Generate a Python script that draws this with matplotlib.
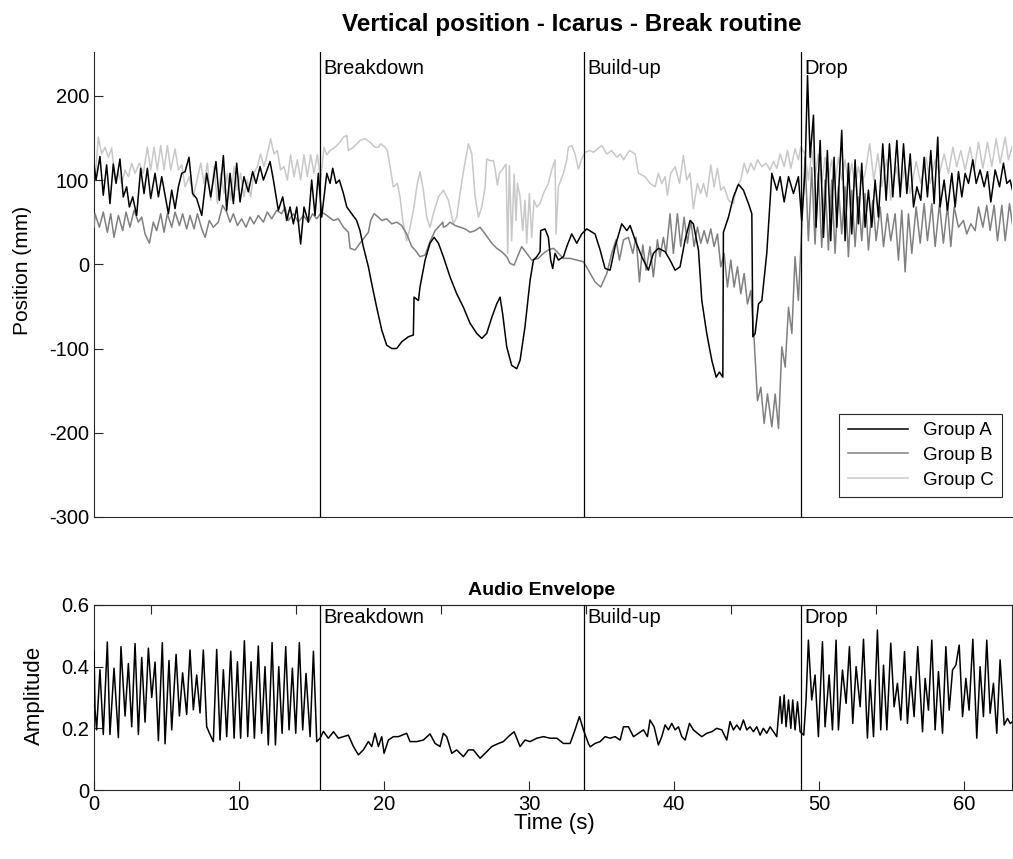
import matplotlib
matplotlib.use("Agg")
import matplotlib.pyplot as plt
import matplotlib.transforms as mtransforms

plt.rcParams["font.family"] = ["Liberation Sans", "DejaVu Sans"]
plt.rcParams["axes.unicode_minus"] = False

# section boundaries (s)
SECTION_TIMES = [15.59, 33.79, 48.76]
SECTION_NAMES = ["Breakdown", "Build-up", "Drop"]

# vertical position (time s, position mm)
group_a = [(0.00, 118), (0.14, 100), (0.41, 128), (0.64, 82), (0.87, 118), (1.10, 72), (1.33, 119),
           (1.52, 96), (1.79, 125), (2.02, 80), (2.25, 92), (2.44, 68), (2.67, 80), (2.94, 58),
           (3.22, 114), (3.45, 84), (3.68, 114), (3.91, 78), (4.21, 108), (4.44, 80), (4.67, 104),
           (4.90, 82), (5.13, 60), (5.36, 88), (5.59, 66), (5.82, 92), (6.05, 108), (6.28, 110),
           (6.55, 127), (6.80, 84), (7.08, 78), (7.43, 58), (7.77, 108), (8.05, 80), (8.41, 122),
           (8.64, 76), (8.92, 129), (9.15, 64), (9.38, 108), (9.61, 72), (9.84, 120), (10.07, 74),
           (10.34, 104), (10.64, 86), (10.94, 110), (11.17, 96), (11.45, 116), (11.68, 100),
           (12.14, 122), (12.37, 100), (12.71, 64), (13.01, 80), (13.29, 52), (13.52, 68),
           (13.75, 48), (13.98, 68), (14.25, 24), (14.48, 68), (14.78, 50), (15.01, 100),
           (15.24, 58), (15.47, 108), (15.70, 56), (16.05, 108), (16.28, 96), (16.46, 114),
           (16.69, 96), (16.92, 100), (17.20, 84), (17.43, 68), (17.77, 60), (18.11, 52),
           (18.34, 40), (18.57, 21), (18.92, -3), (19.15, -23), (19.49, -51), (19.84, -78),
           (20.18, -96), (20.53, -100), (20.87, -100), (21.22, -92), (21.68, -86), (22.02, -84),
           (22.07, -39), (22.37, -43), (22.48, -27), (22.83, 5), (23.17, 25), (23.45, 32),
           (23.75, 25), (24.09, 9), (24.55, -15), (25.01, -35), (25.47, -51), (25.93, -70),
           (26.39, -82), (26.74, -88), (27.08, -82), (27.43, -63), (27.77, -47), (28.00, -39),
           (28.18, -59), (28.46, -98), (28.80, -120), (29.15, -124), (29.38, -114), (29.72, -74),
           (30.07, -19), (30.30, 5), (30.53, 9), (30.76, 15), (30.80, 40), (31.10, 42), (31.33, 32),
           (31.49, 5), (31.63, -5), (31.79, 13), (32.02, 5), (32.37, 9), (32.60, 21), (32.94, 36),
           (33.29, 25), (33.63, 36), (33.98, 42), (34.55, 36), (34.90, 17), (35.24, -5),
           (35.59, -7), (35.93, 21), (36.39, 48), (36.74, 40), (36.97, 46), (37.31, 29), (37.77, 9),
           (38.23, -7), (38.57, 13), (38.92, 19), (39.38, 15), (39.72, 5), (40.07, -7), (40.41, -3),
           (40.76, 29), (41.10, 52), (41.33, 48), (41.68, 17), (41.91, -43), (42.25, -82),
           (42.60, -114), (42.90, -134), (43.13, -128), (43.36, -134), (43.40, 38), (43.75, 56),
           (44.09, 80), (44.44, 95), (44.78, 88), (45.13, 72), (45.36, 60), (45.43, -86),
           (45.59, -82), (45.82, -47), (46.05, -43), (46.39, 13), (46.74, 108), (47.08, 88),
           (47.31, 104), (47.59, 74), (47.89, 104), (48.23, 84), (48.57, 104), (48.80, 52),
           (49.03, 110), (49.20, 224), (49.38, 127), (49.61, 177), (49.79, 44), (50.07, 147),
           (50.30, 32), (50.57, 135), (50.80, 28), (51.03, 127), (51.22, 44), (51.56, 159),
           (51.79, 28), (52.02, 120), (52.25, 36), (52.48, 124), (52.71, 48), (52.94, 120),
           (53.17, 44), (53.40, 88), (53.63, 44), (53.86, 100), (54.09, 56), (54.39, 143),
           (54.62, 76), (54.85, 143), (55.08, 80), (55.36, 147), (55.59, 80), (55.82, 143),
           (56.05, 84), (56.28, 131), (56.51, 68), (56.74, 92), (57.01, 76), (57.24, 127),
           (57.47, 80), (57.70, 135), (57.93, 72), (58.18, 151), (58.34, 68), (58.62, 100),
           (58.85, 64), (59.15, 108), (59.38, 68), (59.61, 110), (59.84, 80), (60.07, 108),
           (60.30, 96), (60.60, 124), (60.83, 96), (61.10, 112), (61.38, 92), (61.61, 110),
           (61.84, 74), (62.14, 112), (62.44, 92), (62.71, 120), (62.94, 96), (63.17, 100),
           (63.36, 86)]

group_b = [(0.00, 44), (0.07, 60), (0.37, 44), (0.64, 62), (0.92, 38), (1.15, 60), (1.38, 32),
           (1.68, 58), (1.98, 40), (2.21, 62), (2.48, 44), (2.76, 64), (3.06, 50), (3.29, 56),
           (3.52, 36), (3.82, 25), (4.09, 50), (4.32, 40), (4.60, 60), (4.83, 38), (5.06, 60),
           (5.36, 44), (5.59, 62), (5.89, 46), (6.11, 60), (6.39, 42), (6.62, 58), (6.90, 42),
           (7.13, 60), (7.43, 42), (7.66, 32), (7.95, 52), (8.23, 44), (8.57, 50), (8.87, 70),
           (9.15, 62), (9.38, 50), (9.61, 60), (9.89, 46), (10.18, 54), (10.48, 44), (10.76, 56),
           (11.03, 48), (11.33, 58), (11.68, 50), (11.95, 62), (12.25, 54), (12.60, 64),
           (12.94, 60), (13.17, 68), (13.40, 52), (13.75, 60), (14.09, 50), (14.44, 58),
           (14.78, 50), (15.08, 60), (15.36, 54), (15.70, 62), (16.05, 58), (16.51, 52),
           (16.85, 54), (17.20, 44), (17.54, 38), (17.66, 19), (18.00, 17), (18.34, 25),
           (18.57, 30), (18.92, 38), (19.08, 52), (19.31, 60), (19.61, 56), (19.84, 52),
           (20.18, 54), (20.53, 48), (20.87, 50), (21.22, 46), (21.56, 36), (21.91, 21),
           (22.14, 17), (22.48, 9), (22.83, 11), (23.17, 27), (23.52, 40), (23.75, 44), (24.05, 50),
           (24.09, 44), (24.32, 46), (24.55, 50), (24.90, 46), (25.24, 44), (25.59, 42),
           (25.93, 38), (26.28, 40), (26.62, 44), (26.97, 36), (27.43, 25), (27.77, 19),
           (28.11, 15), (28.46, 9), (28.69, 1), (28.97, -1), (29.20, 9), (29.49, 21), (29.84, 13),
           (30.18, 5), (30.64, 7), (30.99, 13), (31.33, 17), (31.68, 19), (32.02, 13), (32.37, 7),
           (32.83, 7), (33.29, 5), (33.75, 3), (34.09, -7), (34.55, -21), (34.94, -27),
           (35.36, -11), (35.70, 13), (36.00, 29), (36.23, 5), (36.51, 29), (36.85, 32),
           (37.15, 13), (37.38, 32), (37.61, -21), (37.84, 23), (38.07, -7), (38.34, 21),
           (38.57, -15), (38.85, 29), (39.03, 9), (39.26, 32), (39.45, 13), (39.72, 60),
           (39.95, 13), (40.23, 60), (40.46, 21), (40.69, 56), (40.92, 25), (41.15, 52),
           (41.38, 21), (41.61, 44), (41.84, 25), (42.07, 40), (42.30, 25), (42.53, 42),
           (42.76, 21), (42.99, 36), (43.22, -3), (43.45, 13), (43.68, -27), (43.91, 5),
           (44.14, -27), (44.37, -3), (44.60, -35), (44.83, -11), (45.06, -47), (45.29, -31),
           (45.52, -90), (45.75, -162), (45.98, -146), (46.21, -189), (46.44, -154),
           (46.74, -193), (46.97, -154), (47.20, -195), (47.43, -98), (47.66, -122), (47.89, -51),
           (48.12, -82), (48.34, 9), (48.57, -43), (49.03, 127), (49.26, 28), (49.49, 115),
           (49.72, 24), (49.95, 108), (50.18, 20), (50.41, 100), (50.64, 17), (50.87, 100),
           (51.10, 13), (51.33, 92), (51.56, 36), (51.79, 92), (52.02, 9), (52.25, 88), (52.48, 21),
           (52.71, 80), (52.94, 28), (53.17, 84), (53.40, 17), (53.70, 76), (53.93, 28), (54.21, 68),
           (54.44, 21), (54.71, 60), (54.94, 28), (55.24, 60), (55.47, 5), (55.70, 64), (55.93, -9),
           (56.16, 60), (56.39, 13), (56.69, 68), (56.97, 25), (57.24, 72), (57.47, 28), (57.77, 72),
           (58.00, 21), (58.30, 72), (58.57, 25), (58.85, 70), (59.08, 21), (59.31, 68), (59.61, 44),
           (59.95, 52), (60.18, 36), (60.46, 48), (60.76, 40), (60.99, 68), (61.29, 44), (61.56, 70),
           (61.79, 40), (62.07, 70), (62.30, 28), (62.60, 70), (62.83, 28), (63.13, 72), (63.36, 44)]

group_c = [(0.00, 112), (0.07, 100), (0.30, 151), (0.53, 131), (0.76, 139), (0.99, 127), (1.22, 138),
           (1.45, 100), (1.68, 108), (1.91, 96), (2.14, 112), (2.37, 104), (2.60, 120), (2.83, 108),
           (3.13, 120), (3.40, 108), (3.68, 139), (3.91, 112), (4.14, 139), (4.37, 112), (4.60, 141),
           (4.83, 112), (5.06, 141), (5.29, 112), (5.59, 137), (5.82, 112), (6.05, 118), (6.28, 92),
           (6.57, 104), (6.85, 80), (7.13, 102), (7.36, 120), (7.59, 96), (7.82, 120), (8.05, 76),
           (8.28, 116), (8.51, 72), (8.74, 108), (8.97, 84), (9.20, 108), (9.43, 76), (9.66, 116),
           (9.89, 88), (10.11, 108), (10.34, 80), (10.57, 100), (10.80, 80), (11.03, 108),
           (11.26, 116), (11.49, 131), (11.72, 116), (11.95, 131), (12.18, 149), (12.41, 131),
           (12.64, 135), (12.87, 112), (13.10, 116), (13.33, 100), (13.56, 130), (13.79, 104),
           (14.02, 124), (14.25, 100), (14.48, 130), (14.71, 104), (14.94, 130), (15.17, 108),
           (15.40, 130), (15.63, 100), (15.86, 139), (16.05, 130), (16.28, 135), (16.62, 139),
           (16.97, 145), (17.20, 151), (17.43, 153), (17.54, 135), (17.89, 139), (18.11, 143),
           (18.34, 147), (18.69, 149), (19.03, 145), (19.38, 139), (19.61, 139), (19.77, 143),
           (20.07, 139), (20.23, 135), (20.41, 116), (20.64, 92), (20.92, 96), (21.10, 80),
           (21.29, 52), (21.56, 28), (21.75, 40), (22.02, 64), (22.30, 96), (22.48, 110),
           (22.71, 88), (22.94, 56), (23.17, 44), (23.40, 60), (23.75, 80), (24.09, 88),
           (24.44, 76), (24.78, 48), (25.01, 56), (25.24, 84), (25.52, 115), (25.82, 143),
           (26.05, 131), (26.28, 80), (26.51, 56), (26.74, 68), (26.97, 92), (27.08, 125),
           (27.31, 123), (27.54, 123), (27.66, 113), (27.82, 94), (27.95, 108), (28.18, 113),
           (28.41, 119), (28.53, 13), (28.64, 117), (28.80, 28), (28.97, 107), (29.10, 52),
           (29.20, 96), (29.38, 80), (29.56, 40), (29.72, 76), (29.84, 25), (30.02, 84),
           (30.18, 32), (30.34, 76), (30.53, 68), (30.76, 72), (30.99, 84), (31.33, 96),
           (31.56, 112), (31.79, 124), (31.86, 36), (32.02, 92), (32.37, 108), (32.60, 124),
           (32.71, 139), (32.94, 141), (33.17, 131), (33.40, 113), (33.63, 125), (33.86, 133),
           (34.21, 135), (34.44, 133), (35.01, 141), (35.36, 131), (35.70, 135), (36.05, 127),
           (36.28, 131), (36.51, 124), (36.92, 135), (37.31, 131), (37.54, 108), (38.00, 104),
           (38.34, 96), (38.69, 92), (38.92, 108), (39.15, 96), (39.38, 104), (39.54, 82),
           (39.77, 108), (40.07, 116), (40.37, 96), (40.64, 129), (40.87, 100), (41.10, 108),
           (41.33, 66), (41.61, 96), (41.84, 84), (42.02, 96), (42.25, 80), (42.53, 118),
           (42.76, 92), (42.99, 114), (43.22, 88), (43.45, 92), (43.75, 76), (44.09, 72),
           (44.32, 92), (44.60, 100), (44.83, 120), (45.06, 108), (45.29, 120), (45.52, 112),
           (45.75, 124), (46.05, 116), (46.34, 120), (46.62, 112), (46.85, 122), (47.08, 114),
           (47.31, 131), (47.59, 116), (47.82, 135), (48.05, 114), (48.34, 137), (48.57, 124),
           (48.74, 139), (49.03, 131), (49.26, 100), (49.49, 135), (49.72, 104), (49.95, 131),
           (50.18, 96), (50.41, 127), (50.64, 100), (50.87, 124), (51.10, 96), (51.33, 127),
           (51.56, 100), (51.79, 124), (52.02, 96), (52.25, 120), (52.48, 92), (52.71, 116),
           (52.94, 96), (53.17, 108), (53.49, 143), (53.77, 100), (54.05, 131), (54.32, 92),
           (54.67, 124), (54.94, 76), (55.31, 116), (55.59, 88), (55.93, 116), (56.28, 84),
           (56.69, 122), (57.01, 96), (57.38, 127), (57.66, 96), (58.00, 124), (58.30, 108),
           (58.62, 131), (58.92, 108), (59.22, 139), (59.49, 116), (59.77, 135), (60.07, 112),
           (60.41, 139), (60.69, 112), (60.99, 145), (61.29, 114), (61.61, 145), (61.91, 116),
           (62.21, 149), (62.48, 120), (62.83, 151), (63.06, 124), (63.36, 143)]

# audio envelope (time s, amplitude)
audio = [(0.00, 0.45), (0.07, 0.26), (0.18, 0.195), (0.41, 0.39), (0.64, 0.18), (0.92, 0.48),
         (1.10, 0.18), (1.38, 0.395), (1.68, 0.17), (1.86, 0.465), (2.14, 0.24), (2.37, 0.41),
         (2.60, 0.205), (2.83, 0.475), (3.06, 0.18), (3.29, 0.43), (3.52, 0.22), (3.75, 0.46),
         (3.98, 0.30), (4.21, 0.415), (4.44, 0.16), (4.71, 0.478), (4.90, 0.15), (5.17, 0.42),
         (5.36, 0.195), (5.66, 0.44), (5.89, 0.24), (6.11, 0.38), (6.39, 0.245), (6.62, 0.454),
         (6.85, 0.26), (7.08, 0.373), (7.31, 0.25), (7.54, 0.454), (7.77, 0.205), (8.00, 0.18),
         (8.23, 0.157), (8.46, 0.456), (8.69, 0.162), (8.92, 0.39), (9.15, 0.173), (9.43, 0.45),
         (9.66, 0.168), (9.89, 0.416), (10.11, 0.168), (10.37, 0.484), (10.60, 0.173),
         (10.83, 0.416), (11.06, 0.168), (11.33, 0.467), (11.56, 0.184), (11.79, 0.40),
         (12.02, 0.146), (12.28, 0.478), (12.51, 0.146), (12.74, 0.40), (12.97, 0.184),
         (13.22, 0.465), (13.45, 0.195), (13.68, 0.395), (13.91, 0.184), (14.16, 0.478),
         (14.39, 0.195), (14.62, 0.378), (14.90, 0.173), (15.13, 0.45), (15.36, 0.157),
         (15.59, 0.168), (15.82, 0.19), (16.16, 0.168), (16.51, 0.189), (16.85, 0.168),
         (17.20, 0.173), (17.54, 0.178), (17.89, 0.141), (18.23, 0.114), (18.57, 0.13),
         (18.92, 0.157), (19.15, 0.141), (19.38, 0.184), (19.61, 0.141), (19.84, 0.173),
         (20.00, 0.119), (20.30, 0.162), (20.64, 0.173), (20.99, 0.173), (21.56, 0.184),
         (21.79, 0.157), (22.25, 0.157), (22.71, 0.162), (23.17, 0.182), (23.52, 0.151),
         (23.86, 0.141), (24.09, 0.184), (24.32, 0.173), (24.67, 0.119), (25.01, 0.13),
         (25.47, 0.108), (25.82, 0.13), (26.16, 0.13), (26.62, 0.103), (26.97, 0.119),
         (27.43, 0.141), (27.89, 0.151), (28.23, 0.157), (28.57, 0.173), (28.97, 0.189),
         (29.38, 0.141), (29.72, 0.162), (30.07, 0.157), (30.53, 0.168), (30.99, 0.173),
         (31.45, 0.168), (31.91, 0.168), (32.37, 0.151), (32.83, 0.151), (33.17, 0.195),
         (33.47, 0.238), (33.75, 0.195), (34.09, 0.151), (34.21, 0.14), (34.55, 0.151),
         (34.90, 0.157), (35.24, 0.173), (35.59, 0.168), (35.93, 0.173), (36.28, 0.162),
         (36.51, 0.205), (36.85, 0.205), (37.20, 0.173), (37.54, 0.184), (37.89, 0.195),
         (38.16, 0.173), (38.34, 0.227), (38.62, 0.205), (38.92, 0.146), (39.15, 0.173),
         (39.38, 0.211), (39.61, 0.195), (39.84, 0.216), (40.07, 0.195), (40.30, 0.205),
         (40.53, 0.173), (40.76, 0.162), (41.06, 0.216), (41.33, 0.195), (41.61, 0.184),
         (41.91, 0.173), (42.25, 0.184), (42.60, 0.189), (42.94, 0.20), (43.29, 0.195),
         (43.63, 0.162), (43.86, 0.222), (44.09, 0.195), (44.32, 0.211), (44.55, 0.195),
         (44.78, 0.227), (45.01, 0.195), (45.24, 0.205), (45.47, 0.189), (45.70, 0.205),
         (45.93, 0.178), (46.15, 0.20), (46.39, 0.184), (46.62, 0.205), (46.85, 0.189),
         (47.08, 0.173), (47.31, 0.303), (47.43, 0.216), (47.59, 0.308), (47.72, 0.205),
         (47.89, 0.292), (48.05, 0.20), (48.18, 0.292), (48.34, 0.195), (48.51, 0.286),
         (48.69, 0.189), (48.94, 0.178), (49.10, 0.292), (49.26, 0.486), (49.49, 0.292),
         (49.72, 0.373), (49.95, 0.173), (50.23, 0.481), (50.41, 0.205), (50.69, 0.373),
         (50.92, 0.195), (51.17, 0.486), (51.33, 0.195), (51.61, 0.389), (51.86, 0.281),
         (52.09, 0.465), (52.32, 0.216), (52.55, 0.40), (52.83, 0.27), (53.06, 0.489),
         (53.33, 0.168), (53.52, 0.357), (53.75, 0.173), (54.02, 0.519), (54.25, 0.195),
         (54.44, 0.405), (54.67, 0.195), (54.94, 0.476), (55.17, 0.27), (55.40, 0.346),
         (55.63, 0.227), (55.89, 0.449), (56.09, 0.216), (56.32, 0.368), (56.55, 0.238),
         (56.80, 0.465), (57.13, 0.189), (57.31, 0.362), (57.54, 0.259), (57.77, 0.486),
         (58.00, 0.195), (58.23, 0.384), (58.51, 0.184), (58.74, 0.465), (58.97, 0.259),
         (59.20, 0.389), (59.43, 0.405), (59.66, 0.470), (59.89, 0.238), (60.12, 0.362),
         (60.34, 0.259), (60.60, 0.489), (60.87, 0.168), (61.10, 0.40), (61.33, 0.238),
         (61.56, 0.486), (61.79, 0.249), (62.02, 0.346), (62.25, 0.184), (62.48, 0.422),
         (62.76, 0.211), (62.99, 0.232), (63.17, 0.216), (63.36, 0.222)]

POS_TICKS = [-300, -200, -100, 0, 100, 200]
AMP_TICKS = [0, 0.2, 0.4, 0.6]
TIME_TICKS = [0, 10, 20, 30, 40, 50, 60]
TOP_TICKS = [3.9, 13.9, 23.9, 33.9, 43.9, 53.9]

AXIS_COLOR = "#262626"
W, H = 1013, 859


def unzip(pairs):
    return [p[0] for p in pairs], [p[1] for p in pairs]


def style_axes(ax):
    ax.tick_params(direction="in", length=6.5, width=0.8, colors=AXIS_COLOR,
                   labelcolor="black", labelsize=14.5)
    for sp in ax.spines.values():
        sp.set_color(AXIS_COLOR)
        sp.set_linewidth(0.8)


def mark_sections(ax):
    trans = mtransforms.blended_transform_factory(ax.transData, ax.transAxes)
    for t, name in zip(SECTION_TIMES, SECTION_NAMES):
        ax.axvline(t, color="black", lw=0.9, zorder=5)
        ax.text(t + 0.22, 0.985, name, transform=trans, ha="left", va="top",
                fontsize=14.5, zorder=6)


fig = plt.figure(figsize=(W / 100, H / 100), dpi=100)
ax1 = fig.add_axes([94 / W, 1 - 517 / H, 918 / W, 465 / H])
ax2 = fig.add_axes([94 / W, 1 - 790 / H, 918 / W, 185 / H])

# top panel: vertical position
ta, va = unzip(group_a)
tb, vb = unzip(group_b)
tc, vc = unzip(group_c)
ax1.plot(ta, va, color="black", lw=1.1, label="Group A", zorder=4)
ax1.plot(tb, vb, color="#808080", lw=1.1, label="Group B", zorder=3)
ax1.plot(tc, vc, color="#c8c8c8", lw=1.1, label="Group C", zorder=2)
mark_sections(ax1)

ax1.set_xlim(0, 63.3)
ax1.set_ylim(-300, 252)
ax1.set_yticks(POS_TICKS)
ax1.set_xticks([])
ax1.spines["top"].set_visible(False)
ax1.spines["right"].set_visible(False)
style_axes(ax1)
ax1.set_ylabel("Position (mm)", fontsize=15)
ax1.yaxis.set_label_coords(-0.067, 0.53)
ax1.set_title("Vertical position - Icarus - Break routine", fontsize=17.5,
              fontweight="bold", pad=15, x=0.52)
leg = ax1.legend(loc="lower right", bbox_to_anchor=(0.989, 0.043), borderaxespad=0,
                 fontsize=13.5, handlelength=3.2, fancybox=False, framealpha=1,
                 edgecolor=AXIS_COLOR, borderpad=0.45, labelspacing=0.4)
leg.get_frame().set_linewidth(0.8)

# bottom panel: audio envelope
tt, aa = unzip(audio)
ax2.plot(tt, aa, color="black", lw=1.1, zorder=4)
mark_sections(ax2)
ax2.set_xlim(0, 63.3)
ax2.set_ylim(0, 0.6)
ax2.set_yticks(AMP_TICKS)
ax2.set_yticklabels(["0", "0.2", "0.4", "0.6"])
ax2.set_xticks(TIME_TICKS)
style_axes(ax2)
sec = ax2.secondary_xaxis("top")
sec.set_xticks(TOP_TICKS)
sec.set_xticklabels([])
sec.tick_params(direction="in", length=6.5, width=0.8, colors=AXIS_COLOR)
sec.spines["top"].set_color(AXIS_COLOR)
sec.spines["top"].set_linewidth(0.8)
ax2.set_ylabel("Amplitude", fontsize=16)
ax2.yaxis.set_label_coords(-0.053, 0.51)
ax2.set_xlabel("Time (s)", fontsize=16)
ax2.xaxis.set_label_coords(0.502, -0.122)
ax2.set_title("Audio Envelope", fontsize=14, fontweight="bold", pad=7, x=0.488)

fig.savefig("out.png", dpi=100)
